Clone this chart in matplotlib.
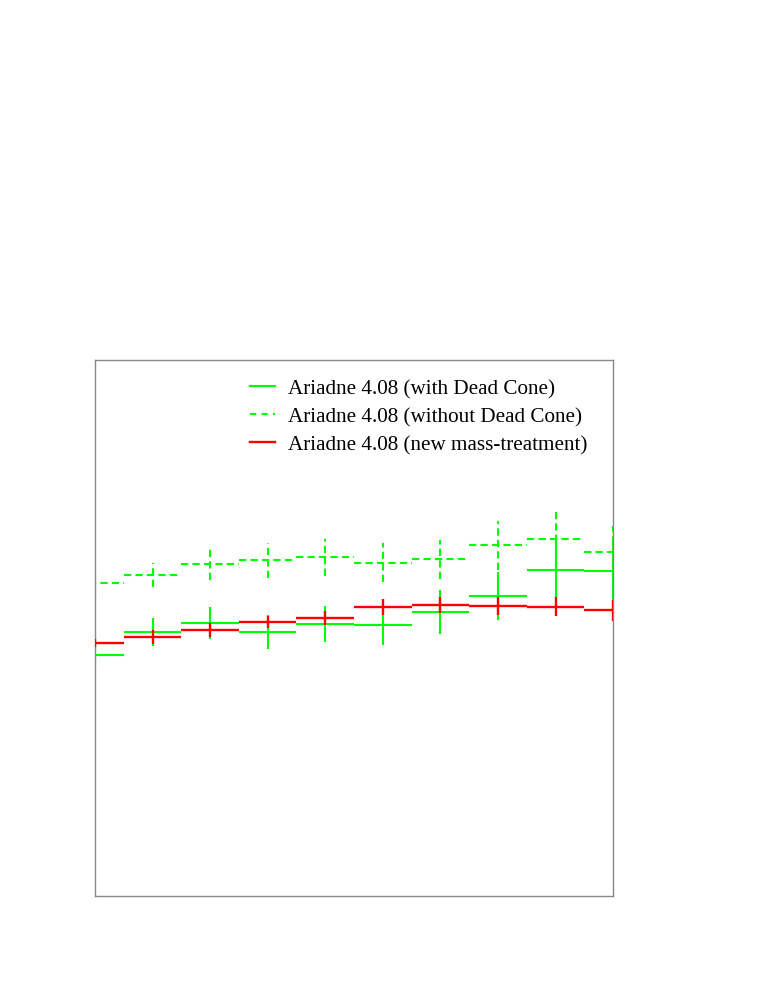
import matplotlib
matplotlib.use("Agg")
import matplotlib.pyplot as plt
import numpy as np
from matplotlib.lines import Line2D

# bin centers (bins of unit width)
bins = [0, 1, 2, 3, 4, 5, 6, 7, 8, 9]

with_dc = [0.450, 0.493, 0.509, 0.493, 0.507, 0.506, 0.530, 0.560, 0.608, 0.606]
with_dc_err = [0.021, 0.026, 0.030, 0.032, 0.034, 0.037, 0.041, 0.045, 0.052, 0.054]

without_dc = [0.584, 0.599, 0.619, 0.626, 0.632, 0.622, 0.628, 0.654, 0.667, 0.642]
without_dc_err = [0.022, 0.023, 0.029, 0.033, 0.035, 0.037, 0.037, 0.045, 0.050, 0.048]

new_mass = [0.472, 0.484, 0.496, 0.511, 0.518, 0.539, 0.543, 0.541, 0.540, 0.533]
new_mass_err = [0.007, 0.013, 0.013, 0.011, 0.013, 0.015, 0.015, 0.017, 0.017, 0.019]

labels = ["Ariadne 4.08 (with Dead Cone)",
          "Ariadne 4.08 (without Dead Cone)",
          "Ariadne 4.08 (new mass-treatment)"]

fig = plt.figure(figsize=(7.63, 9.87), dpi=100)
ax = fig.add_axes([0.1245, 0.0912, 0.679, 0.543])

x = np.array(bins, dtype=float)
dash = (0, (3.5, 2.0))

def draw(vals, errs, color, ls, lw, z):
    v = np.array(vals)
    e = np.array(errs)
    ax.hlines(v, x - 0.5, x + 0.5, colors=color, linestyles=ls, linewidth=lw, zorder=z)
    ax.vlines(x, v - e, v + e, colors=color, linestyles=ls, linewidth=lw, zorder=z)

draw(with_dc, with_dc_err, "#00ff00", "-", 1.5, 2)
draw(without_dc, without_dc_err, "#00ff00", dash, 1.5, 2)
draw(new_mass, new_mass_err, "#ff0000", "-", 1.7, 3)

ax.set_xlim(0, 9)
ax.set_ylim(0, 1)
ax.set_xticks([])
ax.set_yticks([])
for s in ax.spines.values():
    s.set_color("#888888")
    s.set_linewidth(1.0)

handles = [
    Line2D([], [], color="#00ff00", ls="-", lw=1.5),
    Line2D([], [], color="#00ff00", ls=(0, (3.0, 2.5)), lw=1.5),
    Line2D([], [], color="#ff0000", ls="-", lw=1.7),
]
leg = fig.legend(handles, labels, loc="upper left",
                 bbox_to_anchor=(250 / 763, 1 - 380 / 987),
                 frameon=False, prop={"family": "Liberation Serif", "size": 15.2},
                 handlelength=1.2, handletextpad=0.62, labelspacing=0.38,
                 borderaxespad=0, borderpad=0)

fig.savefig("out.png", dpi=100)
